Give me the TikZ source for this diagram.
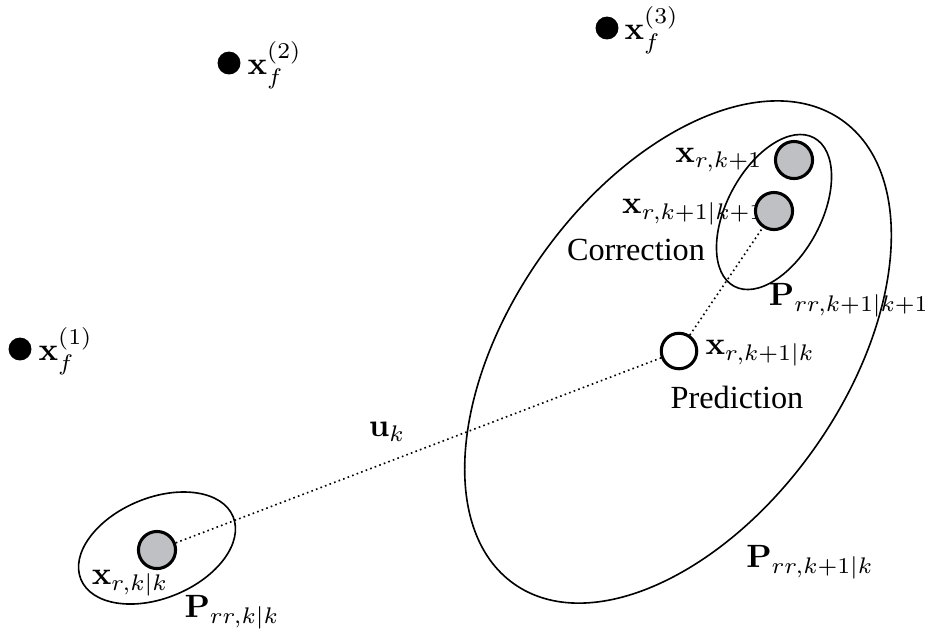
\documentclass[tikz,border=0pt]{standalone}
\usepackage[no-math]{fontspec}
\setmainfont{Liberation Serif}
\usetikzlibrary{positioning}

\definecolor{stategray}{RGB}{191,192,196}

\tikzset{
    landmark/.style = {shape=circle, fill=black, inner sep=0pt, minimum size=7.1pt},
    estimate/.style = {shape=circle, draw, line width=0.95pt, fill=stategray, inner sep=0pt, minimum size=11.5pt},
    predicted/.style = {shape=circle, draw, line width=0.95pt, fill=white, inner sep=0pt, minimum size=11pt},
    lbl/.style = {inner sep=0pt},
    covar/.style = {line width=0.5pt},
    motion/.style = {densely dotted, line width=0.5pt}
}

\begin{document}
\begin{tikzpicture}[x=0.0109cm, y=-0.0109cm]
            \useasboundingbox (0, 0) rectangle (925, 633);

            % covariance ellipses
            \draw[covar, rotate around={22.4:(157, 548)}]  (157, 548) ellipse (82.3 and 50.2);
            \draw[covar, rotate around={54.7:(678, 352)}]  (678, 352) ellipse (284 and 167);
            \draw[covar, rotate around={61.7:(774, 212)}]  (774, 212) ellipse (84.3 and 47);

            % landmarks
            \node[landmark] (f1) at (20, 349) {};
            \node[landmark] (f2) at (229, 63) {};
            \node[landmark] (f3) at (607, 28) {};
            \node[lbl, anchor=west] (f1lbl) at (38, 351) {$\mathbf{x}_f^{(1)}$};
            \node[lbl, anchor=west] (f2lbl) at (247, 65) {$\mathbf{x}_f^{(2)}$};
            \node[lbl, anchor=west] (f3lbl) at (624, 30) {$\mathbf{x}_f^{(3)}$};

            % labels
            \node[lbl] (xkklbl) at (130, 583) {$\mathbf{x}_{r,k|k}$};
            \node[lbl] (Pkk) at (232, 612) {$\mathbf{P}_{rr,k|k}$};
            \node[lbl] (uk) at (387, 432) {$\mathbf{u}_k$};
            \node[lbl, anchor=west] (predlbl) at (705, 353) {$\mathbf{x}_{r,k+1|k}$};
            \node[lbl] (predtxt) at (737, 397) {Prediction};
            \node[lbl] (Pk1k) at (810, 562) {$\mathbf{P}_{rr,k+1|k}$};
            \node[lbl] (corrtxt) at (636, 250) {Correction};
            \node[lbl] (corrlbl) at (693, 212) {$\mathbf{x}_{r,k+1|k+1}$};
            \node[lbl] (measlbl) at (719, 160) {$\mathbf{x}_{r,k+1}$};
            \node[lbl] (Pk1k1) at (849, 300) {$\mathbf{P}_{rr,k+1|k+1}$};

            % states
            \node[estimate] (xkk) at (157, 550) {};
            \node[predicted] (pred) at (679, 351) {};
            \node[estimate] (corr) at (774, 211) {};
            \node[estimate] (meas) at (794, 160) {};

            \draw[motion] (xkk) -- (pred);
            \draw[motion] (pred) -- (corr);

        \end{tikzpicture}
\end{document}
